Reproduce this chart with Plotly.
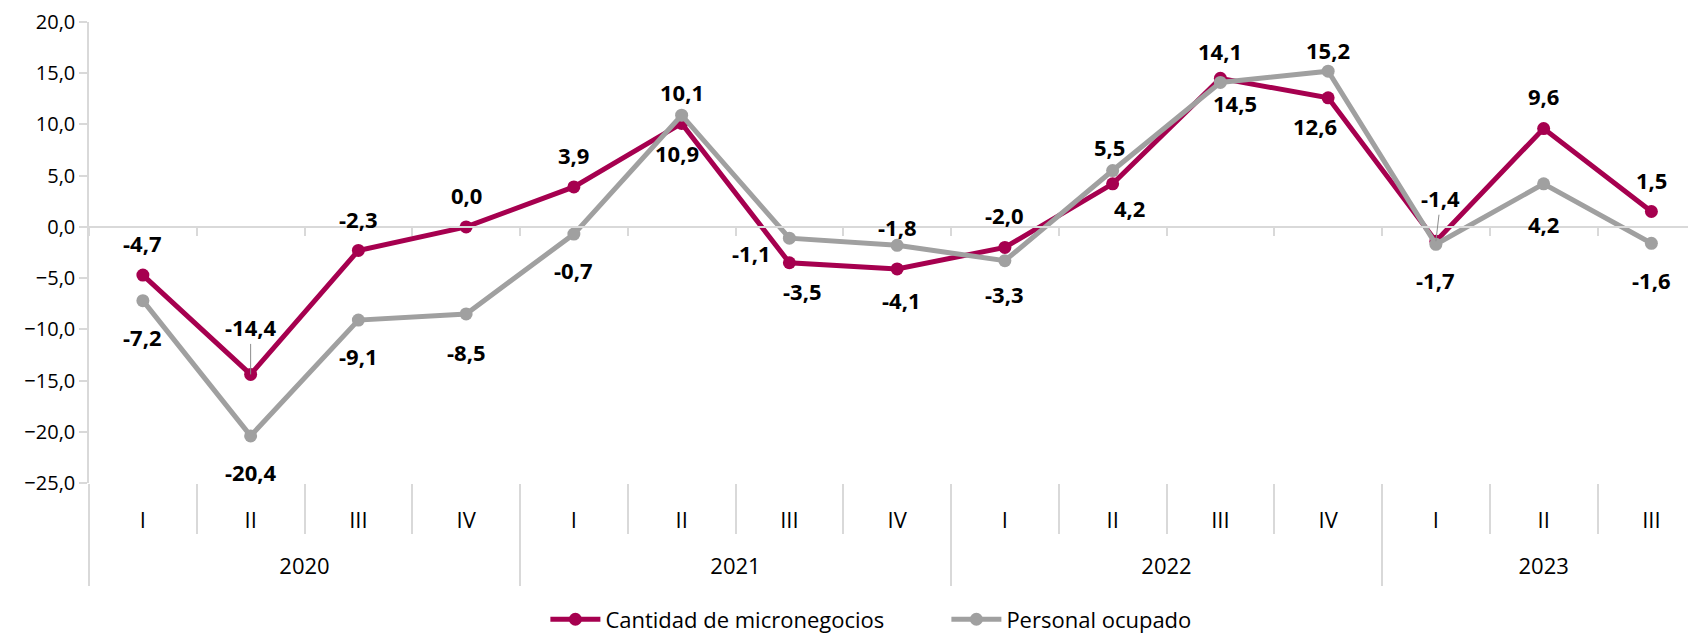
import plotly.graph_objects as go

# quarters and years for the category axis
YEARS = ["2020", "2020", "2020", "2020",
         "2021", "2021", "2021", "2021",
         "2022", "2022", "2022", "2022",
         "2023", "2023", "2023"]
QUARTERS = ["I", "II", "III", "IV",
            "I", "II", "III", "IV",
            "I", "II", "III", "IV",
            "I", "II", "III"]

# variación interanual (%)
micronegocios = [-4.7, -14.4, -2.3, 0.0, 3.9, 10.1, -3.5, -4.1, -2.0, 4.2, 14.5, 12.6, -1.4, 9.6, 1.5]
personal = [-7.2, -20.4, -9.1, -8.5, -0.7, 10.9, -1.1, -1.8, -3.3, 5.5, 14.1, 15.2, -1.7, 4.2, -1.6]

Y_TICKS = [20, 15, 10, 5, 0, -5, -10, -15, -20, -25]

# label offsets in pixels (dx, dy up) - copies the excel placement
micro_offsets = [(0, 32), (0, 47), (0, 31), (0, 32), (0, 32), (0, 31), (13, -28), (4, -31),
                 (0, 32), (17, -24), (15, -25), (-13, -28), (5, 43), (0, 33), (0, 32)]
pers_offsets = [(0, -36), (0, -36), (0, -36), (0, -38), (0, -36), (-5, -38), (-38, -15), (0, 18),
                (0, -33), (-3, 24), (0, 31), (0, 21), (0, -36), (0, -40), (0, -37)]
leaders = {("m", 1), ("m", 12)}

MAROON = "#A6004F"
GRAY = "#A0A0A0"
AXIS_GRAY = "#D9D9D9"
FONT = "Open Sans"

idx = list(range(len(QUARTERS)))
bounds = [i - 0.5 for i in idx] + [idx[-1] + 0.5]
year_names = list(dict.fromkeys(YEARS))
year_idx = {y: [i for i in idx if YEARS[i] == y] for y in year_names}
year_centers = [sum(v) / len(v) for v in year_idx.values()]
year_bounds = [v[0] - 0.5 for v in year_idx.values()] + [idx[-1] + 0.5]
x_range = [-0.5, 14.414]

fig = go.Figure()

fig.add_trace(go.Scatter(
    x=idx, y=micronegocios, name="Cantidad de micronegocios",
    mode="lines+markers",
    line=dict(color=MAROON, width=5),
    marker=dict(color=MAROON, size=13),
))
fig.add_trace(go.Scatter(
    x=idx, y=personal, name="Personal ocupado",
    mode="lines+markers",
    line=dict(color=GRAY, width=5),
    marker=dict(color=GRAY, size=13),
))

# empty helper traces so every overlay axis is drawn
for ax in ("x2", "x3", "x4", "x5"):
    fig.add_trace(go.Scatter(
        x=idx, y=[None] * len(idx), xaxis=ax, yaxis="y",
        showlegend=False, hoverinfo="skip", mode="lines",
    ))


def fmt(v):
    return f"{v:.1f}".replace(".", ",")


annotations = []
for key, values, offsets in (("m", micronegocios, micro_offsets), ("p", personal, pers_offsets)):
    for i, (v, (dx, dy)) in enumerate(zip(values, offsets)):
        leader = (key, i) in leaders
        annotations.append(dict(
            x=i, y=v, xref="x", yref="y",
            text=f"<b>{fmt(v)}</b>",
            showarrow=True, arrowhead=0, arrowwidth=1,
            arrowcolor="#8C8C8C" if leader else "rgba(0,0,0,0)",
            ax=dx, ay=-dy,
            font=dict(family=FONT, size=22, color="black"),
        ))

base_x = dict(type="linear", range=x_range, showgrid=False, zeroline=False,
              automargin=False, fixedrange=True)

# page body has an 8px margin, so the figure is 8px smaller than the window
fig.update_layout(
    width=1688,
    height=626,
    margin=dict(l=81, r=0, t=14, b=151, autoexpand=False),
    paper_bgcolor="white",
    plot_bgcolor="white",
    separators=",.",
    font=dict(family=FONT, size=20, color="black"),
    showlegend=True,
    legend=dict(
        orientation="h", x=0.284, xanchor="left", y=-0.296, yanchor="middle",
        font=dict(family=FONT, size=22, color="black"),
        itemwidth=50, entrywidth=336, entrywidthmode="pixels",
        tracegroupgap=0,
    ),
    annotations=annotations,
    # quarter labels
    xaxis=dict(
        **base_x, showline=False,
        tickvals=idx, ticktext=QUARTERS,
        ticks="outside", ticklen=18, tickcolor="rgba(0,0,0,0)",
        tickfont=dict(family=FONT, size=22, color="black"),
    ),
    # axis line crossing at zero
    xaxis2=dict(
        **base_x, overlaying="x", anchor="free", position=25 / 45,
        showline=True, linecolor=AXIS_GRAY, linewidth=1.5,
        tickvals=bounds, ticks="outside", ticklen=8, tickcolor=AXIS_GRAY, tickwidth=1.5,
        showticklabels=False,
    ),
    # separators between quarters
    xaxis3=dict(
        **base_x, overlaying="x", anchor="y", side="bottom", showline=False,
        tickvals=bounds, ticks="outside", ticklen=50, tickcolor=AXIS_GRAY, tickwidth=1.5,
        showticklabels=False,
    ),
    # separators between years
    xaxis4=dict(
        **base_x, overlaying="x", anchor="y", side="bottom", showline=False,
        tickvals=year_bounds, ticks="outside", ticklen=102, tickcolor=AXIS_GRAY, tickwidth=1.5,
        showticklabels=False,
    ),
    # year labels
    xaxis5=dict(
        **base_x, overlaying="x", anchor="y", side="bottom", showline=False,
        tickvals=year_centers, ticktext=year_names,
        ticks="outside", ticklen=64, tickcolor="rgba(0,0,0,0)",
        tickfont=dict(family=FONT, size=22, color="black"),
    ),
    yaxis=dict(
        range=[-25, 20], tickvals=Y_TICKS, tickformat=".1f",
        showgrid=False, zeroline=False, automargin=False, fixedrange=True,
        showline=True, linecolor=AXIS_GRAY, linewidth=1.5,
        ticks="outside", ticklen=8, tickcolor=AXIS_GRAY, tickwidth=1.5,
        ticklabeloverflow="allow",
        tickfont=dict(family=FONT, size=20, color="black"),
    ),
)

fig.write_html("out.html")
